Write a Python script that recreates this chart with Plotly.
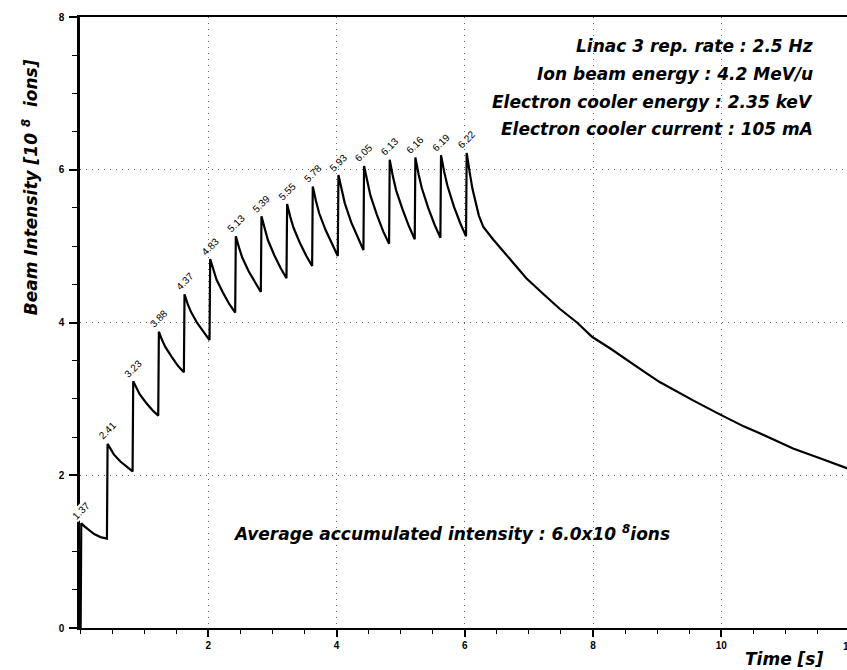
import plotly.graph_objects as go

# ---- data ----
time_s = [0.01, 0.02, 0.07, 0.12, 0.22, 0.32, 0.42,
          0.43, 0.48, 0.53, 0.63, 0.73, 0.82,
          0.83, 0.88, 0.93, 1.03, 1.13, 1.22,
          1.23, 1.28, 1.33, 1.43, 1.53, 1.62,
          1.63, 1.68, 1.73, 1.83, 1.93, 2.02,
          2.03, 2.08, 2.13, 2.23, 2.33, 2.42,
          2.43, 2.48, 2.53, 2.63, 2.73, 2.82,
          2.83, 2.88, 2.93, 3.03, 3.13, 3.22,
          3.23, 3.28, 3.33, 3.43, 3.53, 3.62,
          3.63, 3.68, 3.73, 3.83, 3.93, 4.02,
          4.03, 4.08, 4.13, 4.23, 4.33, 4.42,
          4.43, 4.48, 4.53, 4.63, 4.73, 4.82,
          4.83, 4.88, 4.93, 5.03, 5.13, 5.22,
          5.23, 5.28, 5.33, 5.43, 5.53, 5.62,
          5.63, 5.68, 5.73, 5.83, 5.93, 6.02,
          6.03, 6.08, 6.12, 6.22, 6.29, 6.44, 6.70, 6.96, 7.23, 7.48, 7.75,
          7.99, 8.27, 8.52, 8.79, 9.04, 9.31, 9.56, 9.97, 10.35, 10.60, 11.12,
          11.55, 11.95, 12.00]

intensity = [0.00, 1.37, 1.33, 1.30, 1.23, 1.19, 1.17,
             2.41, 2.33, 2.27, 2.18, 2.11, 2.05,
             3.23, 3.14, 3.06, 2.95, 2.85, 2.78,
             3.88, 3.77, 3.68, 3.55, 3.43, 3.35,
             4.37, 4.24, 4.14, 3.99, 3.87, 3.77,
             4.83, 4.68, 4.56, 4.39, 4.24, 4.13,
             5.13, 4.98, 4.85, 4.67, 4.52, 4.40,
             5.39, 5.22, 5.08, 4.88, 4.71, 4.58,
             5.55, 5.38, 5.24, 5.04, 4.87, 4.74,
             5.78, 5.59, 5.43, 5.21, 5.02, 4.87,
             5.93, 5.72, 5.56, 5.31, 5.11, 4.95,
             6.05, 5.84, 5.66, 5.41, 5.19, 5.03,
             6.13, 5.91, 5.73, 5.48, 5.26, 5.09,
             6.16, 5.94, 5.76, 5.50, 5.28, 5.11,
             6.19, 5.97, 5.79, 5.52, 5.30, 5.13,
             6.22, 5.95, 5.75, 5.40, 5.25, 5.09, 4.84, 4.58, 4.37, 4.18, 4.00,
             3.81, 3.66, 3.51, 3.36, 3.22, 3.09, 2.98, 2.80, 2.64, 2.55, 2.35,
             2.22, 2.09, 2.08]

peak_times = [0.02, 0.43, 0.83, 1.23, 1.63, 2.03, 2.43, 2.83, 3.23, 3.63,
              4.03, 4.43, 4.83, 5.23, 5.63, 6.03]
peak_values = [1.37, 2.41, 3.23, 3.88, 4.37, 4.83, 5.13, 5.39, 5.55, 5.78,
               5.93, 6.05, 6.13, 6.16, 6.19, 6.22]
peak_labels = ["1.37", "2.41", "3.23", "3.88", "4.37", "4.83", "5.13", "5.39",
               "5.55", "5.78", "5.93", "6.05", "6.13", "6.16", "6.19", "6.22"]

x_tick_vals = [2, 4, 6, 8, 10]
x_tick_text = ["2", "4", "6", "8", "10"]
y_tick_vals = [0, 2, 4, 6, 8]
y_tick_text = ["0", "2", "4", "6", "8"]

info_lines = ["Linac 3 rep. rate : 2.5 Hz",
              "Ion beam energy : 4.2 MeV/u",
              "Electron cooler energy : 2.35 keV",
              "Electron cooler current : 105 mA"]
info_y = [7.62, 7.25, 6.89, 6.53]

W, H = 847, 670
ML, MR, MT, MB = 80, 0, 17, 42
px_per_x = 64.125
x_max = (W - ML - MR) / px_per_x

TXT = dict(family="DejaVu Sans", size=17, color="black", weight="bold", style="italic")
TICK = dict(family="Liberation Sans", size=10, color="black", weight="bold")
GRID_DASH = "1px,5px"

fig = go.Figure()
fig.add_trace(go.Scatter(x=time_s, y=intensity, mode="lines",
                         line=dict(color="black", width=2.2), showlegend=False,
                         cliponaxis=True, hoverinfo="skip"))

for t, v, s in zip(peak_times, peak_values, peak_labels):
    fig.add_annotation(x=t, y=v, text=s, showarrow=False, textangle=-45,
                       xanchor="center", yanchor="middle", yshift=13,
                       bgcolor="rgba(255,255,255,0)" if t > 0.1 else "white",
                       borderpad=0,
                       font=dict(family="Liberation Sans", size=10, color="black"))

for s, y in zip(info_lines, info_y):
    fig.add_annotation(x=11.455, y=y, text=s, showarrow=False, xanchor="right",
                       yanchor="middle", font=TXT)

fig.add_annotation(x=5.79, y=1.25, showarrow=False, xanchor="center", yanchor="middle",
                   text="Average accumulated intensity : 6.0x10 <sup>8</sup>ions", font=TXT)

# y-axis title (placed as annotation to match its off-centre position)
fig.add_annotation(xref="paper", yref="y", x=-50 / (W - ML - MR), y=5.77,
                   text="Beam Intensity [10 <sup>8</sup>  ions]", textangle=-90,
                   showarrow=False, xanchor="center", yanchor="middle", font=TXT)
# x-axis title at bottom right
fig.add_annotation(xref="paper", yref="paper", x=(784 - ML) / (W - ML - MR),
                   y=-(659 - (H - MB)) / (H - MT - MB),
                   text="Time [s]", showarrow=False, xanchor="center", yanchor="middle",
                   font=TXT)
# the "12" tick label, cut off by the right edge as in the reference
fig.add_annotation(xref="paper", yref="paper", x=12 / x_max, y=0, yshift=-18,
                   text="12", showarrow=False, xanchor="center", yanchor="middle",
                   font=TICK)

fig.update_layout(
    width=W, height=H,
    margin=dict(l=ML, r=MR, t=MT, b=MB, pad=0),
    paper_bgcolor="white", plot_bgcolor="white",
    showlegend=False,
)
fig.update_xaxes(range=[0, x_max], tickmode="array", tickvals=x_tick_vals,
                 ticktext=x_tick_text, ticks="outside", ticklen=7, tickwidth=1.5,
                 tickcolor="black", tickfont=TICK,
                 showline=True, linecolor="black", linewidth=2.2, mirror=True,
                 showgrid=True, gridcolor="#666666", griddash=GRID_DASH, gridwidth=1,
                 zeroline=False,
                 minor=dict(tick0=0, dtick=0.5, ticks="outside", ticklen=4,
                            tickwidth=1.2, tickcolor="black", showgrid=False))
fig.update_yaxes(range=[0, 8], tickmode="array", tickvals=y_tick_vals,
                 ticktext=y_tick_text, ticks="outside", ticklen=8, tickwidth=1.5,
                 tickcolor="black", tickfont=TICK, ticklabelstandoff=3,
                 showline=True, linecolor="black", linewidth=2.5, mirror=False,
                 showgrid=True, gridcolor="#666666", griddash=GRID_DASH, gridwidth=1,
                 zeroline=False,
                 minor=dict(tick0=0, dtick=0.5, ticks="outside", ticklen=5,
                            tickwidth=1.2, tickcolor="black", showgrid=False))

fig.write_html("out.html",
               config={"displayModeBar": False},
               post_script="document.body.style.margin='0';"
                           "document.body.style.overflow='hidden';")
